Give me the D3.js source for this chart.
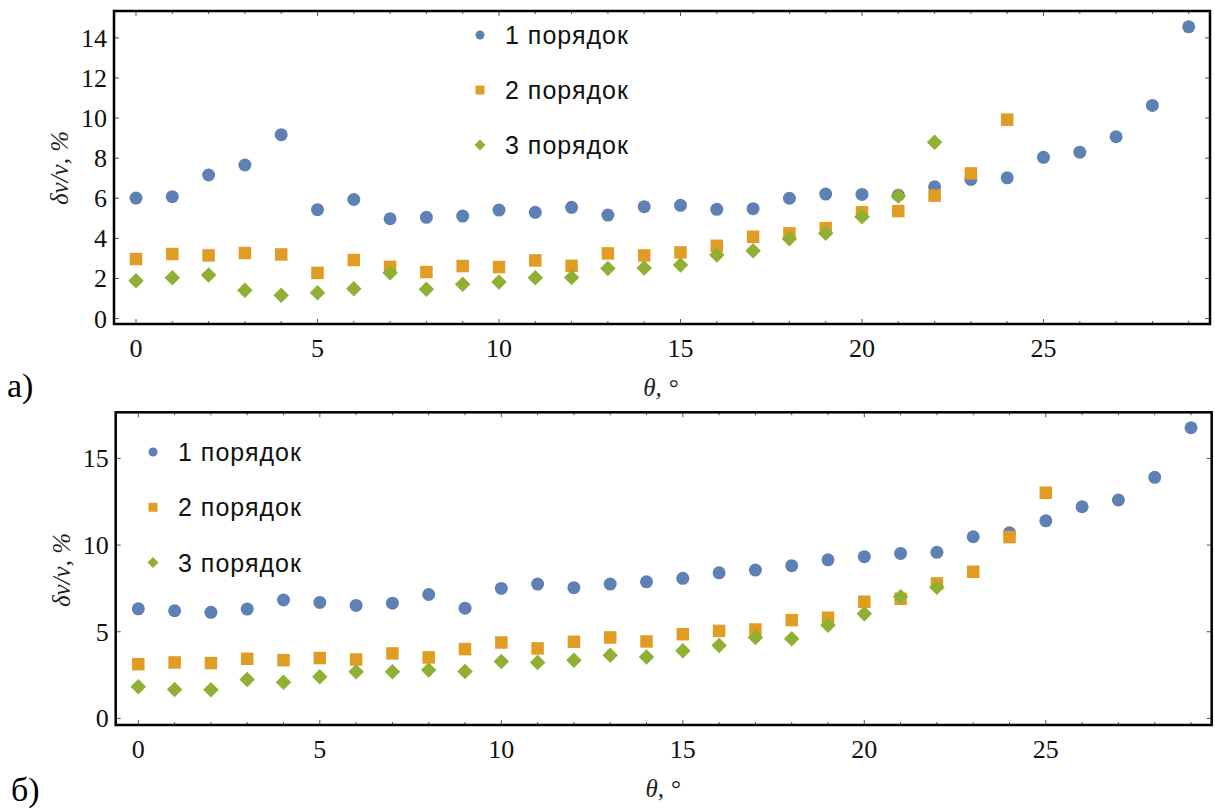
<!DOCTYPE html>
<html>
<head>
<meta charset="utf-8">
<script src="https://cdn.jsdelivr.net/npm/d3@7"></script>
<style>
  html, body { margin: 0; padding: 0; background: #fff; }
  svg { display: block; }
</style>
</head>
<body>
<svg id="chart" width="1215" height="808"></svg>
<script>
// Relative linewidth error δν/ν (%) versus angle θ (°) for three diffraction orders

// Panel а)
const thetaA1 = d3.range(0, 30);
const orderA1 = [6.01, 6.08, 7.16, 7.66, 9.17, 5.43, 5.94, 4.98, 5.05, 5.11,
                 5.41, 5.30, 5.55, 5.16, 5.58, 5.65, 5.45, 5.48, 6.00, 6.21,
                 6.19, 6.15, 6.57, 6.94, 7.02, 8.04, 8.30, 9.07, 10.63, 14.55];
const thetaA2 = d3.range(0, 25);
const orderA2 = [2.97, 3.22, 3.15, 3.27, 3.20, 2.28, 2.92, 2.58, 2.32, 2.62,
                 2.57, 2.90, 2.63, 3.25, 3.15, 3.30, 3.63, 4.08, 4.25, 4.51,
                 5.30, 5.36, 6.13, 7.24, 9.92];
const thetaA3 = d3.range(0, 23);
const orderA3 = [1.89, 2.04, 2.17, 1.41, 1.17, 1.29, 1.49, 2.28, 1.46, 1.71,
                 1.82, 2.04, 2.05, 2.50, 2.52, 2.67, 3.17, 3.38, 3.98, 4.25,
                 5.08, 6.11, 8.79];

// Panel б)
const thetaB1 = d3.range(0, 30);
const orderB1 = [6.32, 6.21, 6.12, 6.31, 6.83, 6.69, 6.52, 6.65, 7.15, 6.36,
                 7.50, 7.75, 7.54, 7.75, 7.88, 8.08, 8.40, 8.56, 8.81, 9.15,
                 9.33, 9.52, 9.58, 10.48, 10.71, 11.40, 12.21, 12.60, 13.91, 16.77];
const thetaB2 = d3.range(0, 26);
const orderB2 = [3.13, 3.23, 3.19, 3.44, 3.36, 3.48, 3.40, 3.75, 3.52, 4.00,
                 4.38, 4.04, 4.42, 4.67, 4.44, 4.86, 5.05, 5.13, 5.67, 5.81,
                 6.73, 6.90, 7.79, 8.46, 10.46, 13.02];
const thetaB3 = d3.range(0, 23);
const orderB3 = [1.82, 1.67, 1.65, 2.25, 2.08, 2.40, 2.69, 2.69, 2.79, 2.71,
                 3.29, 3.23, 3.35, 3.65, 3.55, 3.90, 4.21, 4.67, 4.59, 5.37,
                 6.04, 7.02, 7.56];

const seriesNames = ["1 порядок", "2 порядок", "3 порядок"];
const xTicks = [0, 5, 10, 15, 20, 25];
const yTicksA = [0, 2, 4, 6, 8, 10, 12, 14];
const yTicksB = [0, 5, 10, 15];
const panelLabels = ["а)", "б)"];
const xTitle = "θ, °";
const yTitle = "δν/ν, %";

const colors = ["#5E81B5", "#E19C24", "#8FB032"];
const shapes = ["circle", "square", "diamond"];

const svg = d3.select("#chart");
const serifFont = "Liberation Serif";
const sansFont = "Liberation Sans";

function markerPath(shape, s) {
  if (shape === "circle") return d3.symbol(d3.symbolCircle, Math.PI * s * s / 4)();
  if (shape === "square") return d3.symbol(d3.symbolSquare, s * s)();
  const h = s / 2;
  return `M0,${-h}L${h},0L0,${h}L${-h},0Z`;
}
const markerSize = { circle: 13, square: 12.5, diamond: 15.5 };
const legendSize = { circle: 9, square: 9, diamond: 11 };

function panel(cfg) {
  const g = svg.append("g");
  const x = d3.scaleLinear().domain(cfg.xDomain).range([cfg.left, cfg.right]);
  const y = d3.scaleLinear().domain(cfg.yDomain).range([cfg.bottom, cfg.top]);

  // frame ticks (inside) on all four sides
  const minorX = d3.range(0, 30);
  const tickG = g.append("g").attr("stroke", "#555").attr("stroke-width", 1);
  minorX.forEach(v => {
    const len = v % 5 === 0 ? 5 : 3;
    tickG.append("line").attr("x1", x(v)).attr("x2", x(v))
      .attr("y1", cfg.bottom).attr("y2", cfg.bottom - len);
    tickG.append("line").attr("x1", x(v)).attr("x2", x(v))
      .attr("y1", cfg.top).attr("y2", cfg.top + len);
  });
  cfg.yTicks.forEach(v => {
    tickG.append("line").attr("x1", cfg.left).attr("x2", cfg.left + 5)
      .attr("y1", y(v)).attr("y2", y(v));
    tickG.append("line").attr("x1", cfg.right).attr("x2", cfg.right - 5)
      .attr("y1", y(v)).attr("y2", y(v));
  });

  // frame
  g.append("rect")
    .attr("x", cfg.left).attr("y", cfg.top)
    .attr("width", cfg.right - cfg.left).attr("height", cfg.bottom - cfg.top)
    .attr("fill", "none").attr("stroke", "#000").attr("stroke-width", 2.5);

  // tick labels
  g.append("g").selectAll("text").data(xTicks).join("text")
    .attr("x", d => x(d)).attr("y", cfg.bottom + 33)
    .attr("text-anchor", "middle").attr("fill", "#111")
    .style("font-family", serifFont).style("font-size", "26px")
    .text(d => d);
  g.append("g").selectAll("text").data(cfg.yTicks).join("text")
    .attr("x", cfg.left - 7).attr("y", d => y(d) + 9)
    .attr("text-anchor", "end").attr("fill", "#111")
    .style("font-family", serifFont).style("font-size", "26px")
    .text(d => d);

  // axis titles
  g.append("text")
    .attr("x", x(14.45)).attr("y", cfg.bottom + 72)
    .attr("text-anchor", "middle").attr("fill", "#222")
    .style("font-family", serifFont).style("font-style", "italic")
    .style("font-size", "25px")
    .text(xTitle);
  g.append("text")
    .attr("transform", `translate(${cfg.left - 46},${cfg.yTitleY}) rotate(-90)`)
    .attr("text-anchor", "middle").attr("fill", "#222")
    .style("font-family", serifFont).style("font-style", "italic")
    .style("font-size", "25px")
    .text(yTitle);

  // panel letter
  g.append("text")
    .attr("x", cfg.letterX).attr("y", cfg.letterY).attr("fill", "#000")
    .style("font-family", serifFont).style("font-size", "34px")
    .text(cfg.letter);

  // data points
  cfg.series.forEach((s, i) => {
    g.append("g").selectAll("path").data(s.vals).join("path")
      .attr("d", markerPath(shapes[i], markerSize[shapes[i]]))
      .attr("transform", (d, k) => `translate(${x(s.theta[k])},${y(d)})`)
      .attr("fill", colors[i]);
  });

  // legend
  const lg = g.append("g");
  seriesNames.forEach((name, i) => {
    const yy = cfg.legendY + i * cfg.legendStep;
    lg.append("path")
      .attr("d", markerPath(shapes[i], legendSize[shapes[i]]))
      .attr("transform", `translate(${cfg.legendX},${yy})`)
      .attr("fill", colors[i]);
    lg.append("text")
      .attr("x", cfg.legendX + 25).attr("y", yy + 9).attr("fill", "#111")
      .style("font-family", sansFont).style("font-size", "25px")
      .style("letter-spacing", "1px")
      .text(name);
  });
}

panel({
  left: 114, right: 1210, top: 11, bottom: 324,
  xDomain: [-0.606, 29.587], yDomain: [-0.27, 15.34],
  yTicks: yTicksA, yTitleY: 168,
  letter: panelLabels[0], letterX: 7, letterY: 397,
  legendX: 480, legendY: 35, legendStep: 55,
  series: [
    { theta: thetaA1, vals: orderA1 },
    { theta: thetaA2, vals: orderA2 },
    { theta: thetaA3, vals: orderA3 }
  ]
});

panel({
  left: 115.7, right: 1211.7, top: 412.3, bottom: 725,
  xDomain: [-0.623, 29.57], yDomain: [-0.38, 17.66],
  yTicks: yTicksB, yTitleY: 570,
  letter: panelLabels[1], letterX: 11, letterY: 801,
  legendX: 153, legendY: 452, legendStep: 55.3,
  series: [
    { theta: thetaB1, vals: orderB1 },
    { theta: thetaB2, vals: orderB2 },
    { theta: thetaB3, vals: orderB3 }
  ]
});
</script>
</body>
</html>
